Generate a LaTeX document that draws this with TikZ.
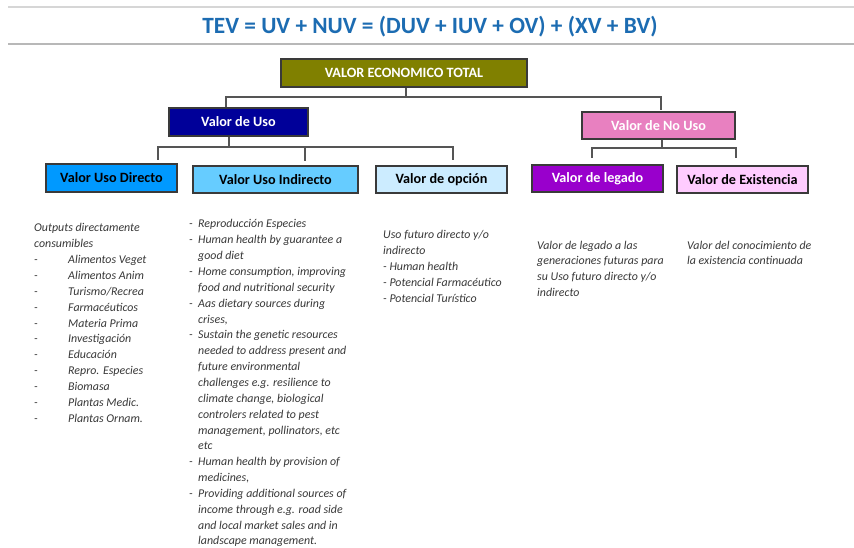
\documentclass[tikz,border=0pt]{standalone}
\usepackage{fontspec}
\setmainfont{Carlito}
\usetikzlibrary{calc}
\definecolor{titleblue}{HTML}{1C6CB2}
\definecolor{cOlive}{HTML}{808000}
\definecolor{cUso}{HTML}{000099}
\definecolor{cNoUso}{HTML}{E880C0}
\definecolor{cDirecto}{HTML}{0099FF}
\definecolor{cIndirecto}{HTML}{66CCFF}
\definecolor{cOpcion}{HTML}{CCECFF}
\definecolor{cLegado}{HTML}{9900CC}
\definecolor{cExist}{HTML}{FFCCFF}
\definecolor{boxline}{HTML}{3A3A3A}
\definecolor{connline}{HTML}{555555}
\definecolor{bodytext}{HTML}{383838}
\renewcommand{\arraystretch}{1}
\begin{document}
\begin{tikzpicture}[x=1pt,y=-1pt,
  box/.style={draw=boxline, line width=1.3pt, inner sep=0pt,
    font=\fontsize{14.2}{16}\selectfont\bfseries},
  conn/.style={draw=connline, line width=1.5pt},
  body/.style={anchor=base west, inner sep=0pt, text=bodytext,
    font=\fontsize{11.9}{15.85}\selectfont\itshape},
  rule/.style={line width=1.4pt}]
\useasboundingbox (0,0) rectangle (854,548);
\fill[white] (0,0) rectangle (854,548);

% title
\coordinate (rA) at (8,7);
\coordinate (rB) at (854,7);
\coordinate (rC) at (8,44);
\coordinate (rD) at (854,44);
\draw[rule, draw=black!16] (rA) -- (rB);
\draw[rule, draw=black!28] (rC) -- (rD);
\node[anchor=base, inner sep=0pt, text=titleblue,
  font=\fontsize{23.3}{26}\selectfont\bfseries] (title) at (430,34)
  {TEV = UV + NUV = (DUV + IUV + OV) + (XV + BV)};

% boxes
\node[box, fill=cOlive, text=white, minimum width=246pt, minimum height=28pt] (top) at (404,73) {VALOR ECONOMICO TOTAL};
\node[box, fill=cUso, text=white, minimum width=139pt, minimum height=28pt] (uso) at (238.5,122) {Valor de Uso};
\node[box, fill=cNoUso, text=white, minimum width=153pt, minimum height=27pt] (nouso) at (658.5,125.5) {Valor de No Uso};
\node[box, fill=cDirecto, text=black, minimum width=131pt, minimum height=28pt] (directo) at (111.5,178) {Valor Uso Directo};
\node[box, fill=cIndirecto, text=black, minimum width=165pt, minimum height=27pt] (indirecto) at (275.5,179.5) {Valor Uso Indirecto};
\node[box, fill=cOpcion, text=black, minimum width=131pt, minimum height=27pt] (opcion) at (441.5,179.5) {Valor de opción};
\node[box, fill=cLegado, text=white, minimum width=131pt, minimum height=27pt] (legado) at (597.5,178.5) {Valor de legado};
\node[box, fill=cExist, text=black, minimum width=131pt, minimum height=27pt] (exist) at (742.5,179.5) {Valor de Existencia};

% connectors top level
\coordinate (jT) at (406,97);
\coordinate (tL) at (226,97);
\coordinate (tR) at (661,97);
\coordinate (dNU) at (661,110.5);
\draw[conn] (top.south -| jT) -- (jT);
\draw[conn] (uso.north -| tL) -- (tL) -- (tR) -- (dNU);

% connectors Valor de Uso
\coordinate (jU) at (229,147);
\coordinate (dUD) at (158,160);
\coordinate (dUI) at (305,161);
\coordinate (dOP) at (453,160);
\draw[conn] (uso.south -| jU) -- (jU);
\draw[conn] (dUD) -- (dUD |- jU) -- (dOP |- jU) -- (dOP);
\draw[conn] (dUI |- jU) -- (dUI);

% connectors Valor de No Uso
\coordinate (jN) at (662,148);
\coordinate (dLG) at (592,158);
\coordinate (dEX) at (736,158);
\draw[conn] (nouso.south -| jN) -- (jN);
\draw[conn] (dLG) -- (dLG |- jN) -- (dEX |- jN) -- (dEX);

% body texts
\node[body] (t1) at (34,232) {\begin{tabular}[t]{@{}l@{}}
Outputs directamente\\
consumibles\\
\makebox[34pt][l]{-}Alimentos Veget\\
\makebox[34pt][l]{-}Alimentos Anim\\
\makebox[34pt][l]{-}Turismo/Recrea\\
\makebox[34pt][l]{-}Farmacéuticos\\
\makebox[34pt][l]{-}Materia Prima\\
\makebox[34pt][l]{-}Investigación\\
\makebox[34pt][l]{-}Educación\\
\makebox[34pt][l]{-}Repro. Especies\\
\makebox[34pt][l]{-}Biomasa\\
\makebox[34pt][l]{-}Plantas Medic.\\
\makebox[34pt][l]{-}Plantas Ornam.
\end{tabular}};

\node[body] (t2) at (189,228) {\begin{tabular}[t]{@{}l@{}}
\makebox[9pt][l]{-}Reproducción Especies\\
\makebox[9pt][l]{-}Human health by guarantee a\\
\makebox[9pt][l]{}good diet\\
\makebox[9pt][l]{-}Home consumption, improving\\
\makebox[9pt][l]{}food and nutritional security\\
\makebox[9pt][l]{-}Aas dietary sources during\\
\makebox[9pt][l]{}crises,\\
\makebox[9pt][l]{-}Sustain the genetic resources\\
\makebox[9pt][l]{}needed to address present and\\
\makebox[9pt][l]{}future environmental\\
\makebox[9pt][l]{}challenges e.g. resilience to\\
\makebox[9pt][l]{}climate change, biological\\
\makebox[9pt][l]{}controlers related to pest\\
\makebox[9pt][l]{}management, pollinators, etc\\
\makebox[9pt][l]{}etc\\
\makebox[9pt][l]{-}Human health by provision of\\
\makebox[9pt][l]{}medicines,\\
\makebox[9pt][l]{-}Providing additional sources of\\
\makebox[9pt][l]{}income through e.g. road side\\
\makebox[9pt][l]{}and local market sales and in\\
\makebox[9pt][l]{}landscape management.
\end{tabular}};

\node[body] (t3) at (383,239) {\begin{tabular}[t]{@{}l@{}}
Uso futuro directo y/o\\
indirecto\\
- Human health\\
- Potencial Farmacéutico\\
- Potencial Turístico
\end{tabular}};

\node[body] (t4) at (537,249) {\begin{tabular}[t]{@{}l@{}}
Valor de legado a las\\
generaciones futuras para\\
su Uso futuro directo y/o\\
indirecto
\end{tabular}};

\node[body] (t5) at (687,249) {\begin{tabular}[t]{@{}l@{}}
Valor del conocimiento de\\
la existencia continuada
\end{tabular}};
\end{tikzpicture}
\end{document}
